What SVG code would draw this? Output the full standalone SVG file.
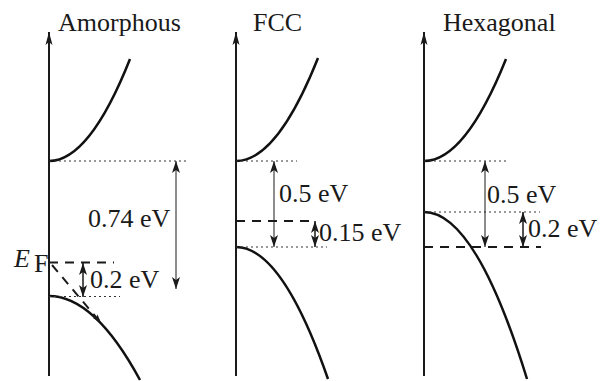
<svg xmlns="http://www.w3.org/2000/svg" width="604" height="381" viewBox="0 0 604 381">
<defs>
<marker id="ah" markerUnits="userSpaceOnUse" markerWidth="14" markerHeight="10" refX="12" refY="4" orient="auto-start-reverse" viewBox="0 0 14 8"><path d="M0,0 L12,4 L0,8 L3,4 Z" fill="#1a1a1a"/></marker>
<marker id="ahs" markerUnits="userSpaceOnUse" markerWidth="10" markerHeight="8" refX="9" refY="3" orient="auto" viewBox="0 0 10 6"><path d="M0,0 L9,3 L0,6 L2,3 Z" fill="#1a1a1a"/></marker>
<marker id="axh" markerUnits="userSpaceOnUse" markerWidth="14" markerHeight="10" refX="13" refY="4" orient="auto" viewBox="0 0 14 8"><path d="M0,0.5 L13,4 L0,7.5 L3,4 Z" fill="#1a1a1a"/></marker>
</defs>
<style>
.axis{stroke:#1a1a1a;stroke-width:2;fill:none}
.band{stroke:#111;stroke-width:2.5;fill:none}
.dot{stroke:#333;stroke-width:1;stroke-dasharray:2 3;fill:none}
.dash{stroke:#1a1a1a;stroke-width:2;stroke-dasharray:9 7;fill:none}
.dim{stroke:#1a1a1a;stroke-width:1;fill:none}
.dim2{stroke:#1a1a1a;stroke-width:1.5;fill:none}
text{font-family:"Liberation Serif","Times New Roman",serif;font-size:26px;fill:#1a1a1a}
</style>
<rect width="604" height="381" fill="#fff"/>
<g id="amorphous">
<line class="axis" x1="49" y1="376" x2="49" y2="32" marker-end="url(#axh)"/>
<text x="58" y="31">Amorphous</text>
<path class="band" d="M49,161 Q89.5,161 130,59"/>
<path class="band" d="M49,296 Q94.5,296 140,380"/>
<line class="dot" x1="49" y1="161" x2="188" y2="161"/>
<line class="dot" x1="49" y1="296.5" x2="120" y2="296.5"/>
<line class="dash" x1="49" y1="262.5" x2="114" y2="262.5"/>
<text x="14" y="267" font-style="italic" font-size="25">E</text>
<text x="34" y="272" font-size="18">F</text>
<text x="88" y="227">0.74 eV</text>
<text x="90" y="288">0.2 eV</text>
</g>
<g id="fcc">
<line class="axis" x1="236" y1="376" x2="236" y2="32" marker-end="url(#axh)"/>
<text x="253" y="31">FCC</text>
<path class="band" d="M236,161 Q277,161 318,58"/>
<path class="band" d="M236,247 Q282,247 328,379"/>
<line class="dot" x1="236" y1="161" x2="297" y2="161"/>
<line class="dot" x1="236" y1="247" x2="327" y2="247"/>
<line class="dash" x1="236" y1="221" x2="312" y2="221"/>
<text x="279" y="202">0.5 eV</text>
<text x="319" y="241">0.15 eV</text>
</g>
<g id="hexagonal">
<line class="axis" x1="424" y1="376" x2="424" y2="32" marker-end="url(#axh)"/>
<text x="443" y="31">Hexagonal</text>
<path class="band" d="M424,161 Q465,161 506,59"/>
<path class="band" d="M424,212 Q475.5,212 527,379"/>
<line class="dot" x1="424" y1="161" x2="508" y2="161"/>
<line class="dot" x1="424" y1="212" x2="540" y2="212"/>
<line class="dash" x1="424" y1="247" x2="541" y2="247"/>
<text x="487" y="203">0.5 eV</text>
<text x="528" y="237">0.2 eV</text>
</g>
<g id="connectors">
<line class="dim" x1="176" y1="161" x2="176" y2="289" marker-start="url(#ah)" marker-end="url(#ah)"/>
<line class="dim2" x1="83" y1="263" x2="83" y2="297" marker-start="url(#ah)" marker-end="url(#ah)"/>
<line class="dash" x1="52" y1="265" x2="101" y2="323" stroke-dasharray="7 5" marker-end="url(#ahs)"/>
<line class="dim" x1="274" y1="161" x2="274" y2="247" marker-start="url(#ah)" marker-end="url(#ah)"/>
<line class="dim2" x1="315" y1="221" x2="315" y2="247" marker-start="url(#ah)" marker-end="url(#ah)"/>
<line class="dim" x1="485" y1="161" x2="485" y2="247" marker-start="url(#ah)" marker-end="url(#ah)"/>
<line class="dim2" x1="523" y1="212" x2="523" y2="247" marker-start="url(#ah)" marker-end="url(#ah)"/>
</g>
</svg>
